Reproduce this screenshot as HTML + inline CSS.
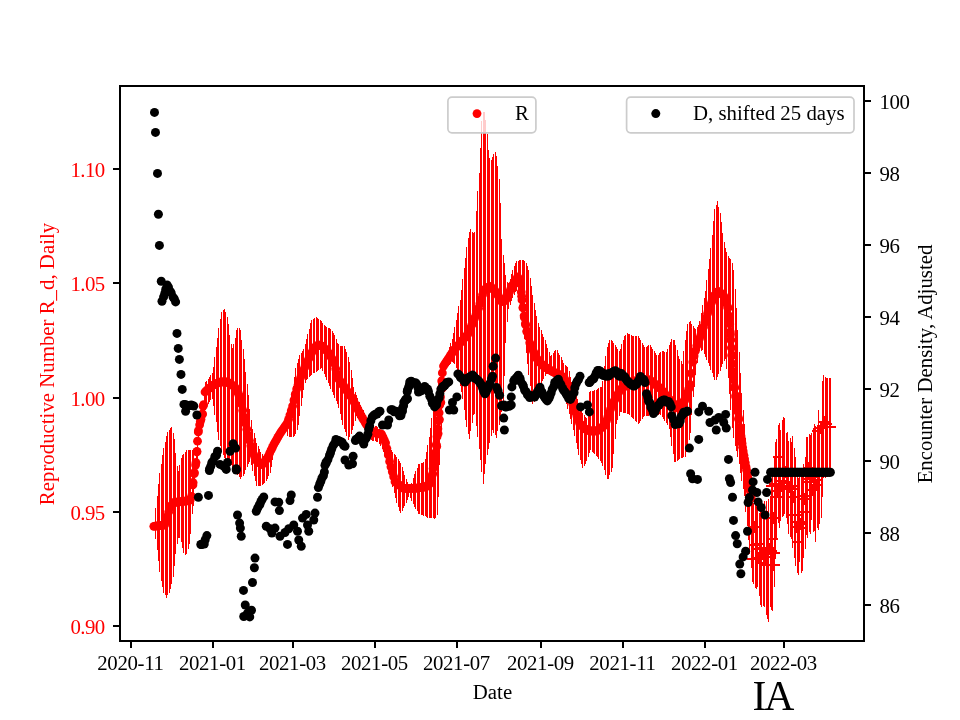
<!DOCTYPE html>
<html><head><meta charset="utf-8"><title>IA</title>
<style>html,body{margin:0;padding:0;background:#fff}svg{display:block;will-change:transform}text{font-family:"Liberation Serif",serif}</style></head><body>
<svg width="960" height="720" viewBox="0 0 960 720">
<rect width="960" height="720" fill="#fff"/>
<g stroke="#f00" stroke-width="1" fill="none" shape-rendering="crispEdges">
<path d="M154.5 522V530M155.5 508V539M157.5 496V550M158.5 484V561M159.5 473V572M161.5 464V581M162.5 455V587M163.5 448V593M165.5 442V595M166.5 436V598M167.5 432V595M169.5 430V593M170.5 428V589M171.5 427V584M173.5 433V577M174.5 439V566M175.5 453V554M177.5 466V544M178.5 471V538M179.5 465V538M181.5 458V542M182.5 455V548M183.5 454V553M185.5 452V555M186.5 450V554M188.5 450V549M189.5 450V544M190.5 450V534M192.5 450V514M193.5 453V506M194.5 459V489M196.5 454V474M197.5 441V459M198.5 425V440M200.5 418V432M201.5 411V426M202.5 404V420M204.5 393V414M205.5 382V410M206.5 381V407M208.5 379V404M209.5 377V402M210.5 375V400M212.5 373V399M213.5 367V406M214.5 357V415M216.5 347V422M217.5 338V432M218.5 328V440M220.5 319V446M221.5 312V452M223.5 310V455M224.5 309V458M225.5 312V459M227.5 317V460M228.5 324V462M229.5 335V464M231.5 344V465M232.5 348V467M233.5 344V469M235.5 338V471M236.5 330V473M237.5 328V475M239.5 328V477M240.5 330V479M241.5 340V477M243.5 349V476M244.5 359V474M245.5 372V470M247.5 384V467M248.5 395V464M249.5 409V462M251.5 420V465M252.5 429V471M254.5 433V476M255.5 438V481M256.5 443V486M258.5 446V486M259.5 449V486M260.5 452V486M262.5 454V485M263.5 456V484M264.5 455V483M266.5 454V481M267.5 453V479M268.5 452V476M270.5 450V473M271.5 448V467M272.5 446V460M274.5 444V452M275.5 441V448M276.5 438V445M278.5 435V442M279.5 432V440M280.5 429V438M282.5 426V436M283.5 423V434M285.5 419V432M286.5 416V430M287.5 411V436M289.5 406V437M290.5 400V437M291.5 393V437M293.5 386V437M294.5 377V436M295.5 368V434M297.5 363V430M298.5 359V425M299.5 355V416M301.5 353V406M302.5 351V398M303.5 349V390M305.5 344V383M306.5 339V380M307.5 334V379M309.5 329V377M310.5 323V376M311.5 320V375M313.5 319V373M314.5 318V373M316.5 317V372M317.5 318V371M318.5 319V370M320.5 320V369M321.5 321V368M322.5 323V371M324.5 325V374M325.5 326V377M326.5 327V380M328.5 328V383M329.5 328V386M330.5 329V389M332.5 331V392M333.5 333V395M334.5 335V398M336.5 339V401M337.5 343V404M338.5 344V408M340.5 346V414M341.5 346V420M342.5 346V425M344.5 346V429M345.5 349V432M346.5 352V436M348.5 357V440M349.5 362V437M351.5 370V434M352.5 378V430M353.5 387V426M355.5 392V421M356.5 395V416M357.5 398V418M359.5 402V419M360.5 405V421M361.5 407V423M363.5 410V425M364.5 413V428M365.5 415V431M367.5 418V433M368.5 420V436M369.5 423V439M371.5 424V440M372.5 425V441M373.5 425V441M375.5 426V441M376.5 426V442M377.5 427V442M379.5 429V444M380.5 431V446M382.5 434V449M383.5 436V452M384.5 439V454M386.5 441V457M387.5 444V462M388.5 446V468M390.5 448V473M391.5 450V480M392.5 452V487M394.5 454V493M395.5 455V498M396.5 457V503M398.5 459V507M399.5 461V511M400.5 463V513M402.5 467V511M403.5 471V508M404.5 475V506M406.5 479V503M407.5 482V500M408.5 484V497M410.5 486V498M411.5 483V501M413.5 478V504M414.5 474V507M415.5 471V509M417.5 468V511M418.5 464V514M419.5 464V514M421.5 463V515M422.5 463V515M423.5 462V516M425.5 459V516M426.5 452V517M427.5 445V518M429.5 437V518M430.5 428V518M431.5 418V518M433.5 410V518M434.5 404V519M435.5 397V518M437.5 390V515M438.5 383V497M439.5 377V465M441.5 371V429M442.5 366V394M443.5 362V371M445.5 358V368M446.5 355V367M448.5 351V366M449.5 347V365M450.5 343V364M452.5 339V362M453.5 333V363M454.5 327V364M456.5 320V368M457.5 313V374M458.5 306V379M460.5 300V386M461.5 290V392M462.5 279V399M464.5 268V410M465.5 258V420M466.5 247V427M468.5 238V434M469.5 232V439M470.5 229V431M472.5 232V423M473.5 233V415M474.5 232V414M476.5 211V426M477.5 191V437M479.5 173V449M480.5 148V460M481.5 121V472M483.5 112V484M484.5 112V474M485.5 120V464M487.5 134V455M488.5 150V449M489.5 158V443M491.5 160V436M492.5 157V430M493.5 154V433M495.5 152V435M496.5 156V438M497.5 166V431M499.5 179V425M500.5 203V418M501.5 239V412M503.5 255V405M504.5 263V376M505.5 275V343M507.5 282V322M508.5 283V309M510.5 279V305M511.5 274V301M512.5 270V298M514.5 266V295M515.5 263V292M516.5 261V291M518.5 261V295M519.5 260V300M520.5 260V309M522.5 260V318M523.5 260V328M524.5 261V339M526.5 263V353M527.5 266V364M528.5 270V375M530.5 278V386M531.5 286V397M532.5 295V404M534.5 303V402M535.5 310V401M536.5 316V398M538.5 323V393M539.5 327V388M541.5 330V384M542.5 334V381M543.5 337V379M545.5 340V376M546.5 344V374M547.5 348V374M549.5 352V373M550.5 356V372M551.5 355V373M553.5 353V374M554.5 351V375M555.5 350V376M557.5 350V377M558.5 353V380M559.5 355V383M561.5 357V385M562.5 360V388M563.5 363V394M565.5 365V399M566.5 366V404M567.5 367V409M569.5 371V414M570.5 377V419M571.5 382V424M573.5 387V430M574.5 391V436M576.5 395V443M577.5 399V449M578.5 403V455M580.5 407V460M581.5 410V464M582.5 413V468M584.5 415V466M585.5 417V464M586.5 418V461M588.5 401V457M589.5 392V453M590.5 391V450M592.5 391V452M593.5 391V453M594.5 390V454M596.5 390V456M597.5 389V457M598.5 388V459M600.5 387V461M601.5 387V463M602.5 381V466M604.5 366V470M605.5 356V475M607.5 347V479M608.5 343V479M609.5 340V475M611.5 340V472M612.5 341V468M613.5 343V454M615.5 345V439M616.5 347V424M617.5 349V420M619.5 351V416M620.5 349V412M621.5 344V412M623.5 340V413M624.5 336V413M625.5 335V413M627.5 333V414M628.5 334V414M629.5 334V415M631.5 335V417M632.5 336V418M633.5 336V419M635.5 336V421M636.5 336V422M638.5 336V424M639.5 338V423M640.5 340V421M642.5 343V419M643.5 345V417M644.5 347V416M646.5 347V416M647.5 346V416M648.5 345V416M650.5 345V416M651.5 347V416M652.5 349V416M654.5 351V416M655.5 353V416M656.5 355V416M658.5 355V415M659.5 353V414M660.5 352V415M662.5 351V417M663.5 351V419M664.5 352V421M666.5 352V423M667.5 349V425M669.5 345V429M670.5 342V437M671.5 339V446M673.5 340V454M674.5 340V462M675.5 345V462M677.5 350V461M678.5 356V460M679.5 359V459M681.5 361V458M682.5 364V458M683.5 351V457M685.5 340V457M686.5 331V452M687.5 324V446M689.5 322V440M690.5 321V433M691.5 324V415M693.5 326V397M694.5 328V387M695.5 329V375M697.5 327V363M698.5 325V352M699.5 321V351M701.5 313V351M702.5 305V350M704.5 298V354M705.5 291V357M706.5 280V360M708.5 269V363M709.5 259V366M710.5 248V370M712.5 235V373M713.5 221V377M714.5 209V380M716.5 205V380M717.5 201V377M718.5 207V374M720.5 213V371M721.5 222V367M722.5 233V364M724.5 242V361M725.5 248V359M726.5 252V369M728.5 256V378M729.5 258V394M730.5 259V410M732.5 263V428M733.5 270V438M735.5 289V446M736.5 308V451M737.5 330V457M739.5 352V464M740.5 373V473M741.5 393V481M743.5 410V489M744.5 424V496M745.5 438V512M747.5 454V526M748.5 470V540M749.5 483V554M751.5 493V568M752.5 500V582M753.5 503V584M755.5 501V588M756.5 501V589M757.5 501V587M759.5 513V596M760.5 504V605M761.5 502V607M763.5 511V606M764.5 501V607M766.5 501V615M767.5 511V619M768.5 499V622M770.5 498V607M771.5 486V610M772.5 471V611M774.5 457V587M775.5 442V559M776.5 439V538M778.5 425V523M779.5 423V528M780.5 430V521M782.5 420V517M783.5 417V516M784.5 418V514M786.5 433V518M787.5 432V524M788.5 441V534M790.5 438V537M791.5 442V539M792.5 436V548M794.5 448V558M795.5 457V566M797.5 468V573M798.5 478V575M799.5 477V562M801.5 473V573M802.5 476V571M803.5 464V558M805.5 457V549M806.5 437V535M807.5 437V538M809.5 434V532M810.5 435V534M811.5 433V520M813.5 428V532M814.5 424V531M815.5 426V542M817.5 432V528M818.5 410V530M819.5 425V524M821.5 428V518M822.5 381V497M823.5 375V478M825.5 377V478M826.5 378V477M827.5 378V477M829.5 378V477M830.5 378V476"/>
</g>
<g fill="#f00">
<circle cx="153.82" cy="526.3" r="4.4"/>
<circle cx="155.17" cy="526.1" r="4.4"/>
<circle cx="156.51" cy="526.0" r="4.4"/>
<circle cx="157.86" cy="525.8" r="4.4"/>
<circle cx="159.21" cy="525.7" r="4.4"/>
<circle cx="160.56" cy="525.5" r="4.4"/>
<circle cx="161.90" cy="525.4" r="4.4"/>
<circle cx="163.25" cy="525.2" r="4.4"/>
<circle cx="164.60" cy="525.0" r="4.4"/>
<circle cx="165.95" cy="521.5" r="4.4"/>
<circle cx="167.29" cy="516.5" r="4.4"/>
<circle cx="168.64" cy="512.0" r="4.4"/>
<circle cx="169.99" cy="507.5" r="4.4"/>
<circle cx="171.34" cy="505.7" r="4.4"/>
<circle cx="172.68" cy="503.9" r="4.4"/>
<circle cx="174.03" cy="502.5" r="4.4"/>
<circle cx="175.38" cy="502.3" r="4.4"/>
<circle cx="176.72" cy="502.2" r="4.4"/>
<circle cx="178.07" cy="502.0" r="4.4"/>
<circle cx="179.42" cy="501.8" r="4.4"/>
<circle cx="180.77" cy="501.7" r="4.4"/>
<circle cx="182.11" cy="501.5" r="4.4"/>
<circle cx="183.46" cy="501.4" r="4.4"/>
<circle cx="184.81" cy="501.2" r="4.4"/>
<circle cx="186.16" cy="501.0" r="4.4"/>
<circle cx="187.50" cy="500.9" r="4.4"/>
<circle cx="188.85" cy="500.7" r="4.4"/>
<circle cx="190.20" cy="500.0" r="4.4"/>
<circle cx="191.55" cy="496.3" r="4.4"/>
<circle cx="192.89" cy="484.9" r="4.4"/>
<circle cx="194.24" cy="473.7" r="4.4"/>
<circle cx="195.59" cy="465.1" r="4.4"/>
<circle cx="196.93" cy="451.3" r="4.4"/>
<circle cx="198.28" cy="432.0" r="4.4"/>
<circle cx="199.63" cy="424.8" r="4.4"/>
<circle cx="200.98" cy="419.2" r="4.4"/>
<circle cx="202.32" cy="414.4" r="4.4"/>
<circle cx="203.67" cy="404.6" r="4.4"/>
<circle cx="205.02" cy="392.0" r="4.4"/>
<circle cx="206.37" cy="390.8" r="4.4"/>
<circle cx="207.71" cy="389.6" r="4.4"/>
<circle cx="209.06" cy="388.5" r="4.4"/>
<circle cx="210.41" cy="387.3" r="4.4"/>
<circle cx="211.76" cy="386.1" r="4.4"/>
<circle cx="213.10" cy="385.2" r="4.4"/>
<circle cx="214.45" cy="384.6" r="4.4"/>
<circle cx="215.80" cy="384.0" r="4.4"/>
<circle cx="217.14" cy="383.3" r="4.4"/>
<circle cx="218.49" cy="382.7" r="4.4"/>
<circle cx="219.84" cy="382.1" r="4.4"/>
<circle cx="221.19" cy="382.0" r="4.4"/>
<circle cx="222.53" cy="382.0" r="4.4"/>
<circle cx="223.88" cy="382.0" r="4.4"/>
<circle cx="225.23" cy="382.0" r="4.4"/>
<circle cx="226.58" cy="382.0" r="4.4"/>
<circle cx="227.92" cy="382.3" r="4.4"/>
<circle cx="229.27" cy="383.2" r="4.4"/>
<circle cx="230.62" cy="384.1" r="4.4"/>
<circle cx="231.97" cy="385.0" r="4.4"/>
<circle cx="233.31" cy="385.9" r="4.4"/>
<circle cx="234.66" cy="386.8" r="4.4"/>
<circle cx="236.01" cy="389.0" r="4.4"/>
<circle cx="237.36" cy="391.7" r="4.4"/>
<circle cx="238.70" cy="394.4" r="4.4"/>
<circle cx="240.05" cy="397.2" r="4.4"/>
<circle cx="241.40" cy="403.8" r="4.4"/>
<circle cx="242.74" cy="410.4" r="4.4"/>
<circle cx="244.09" cy="417.0" r="4.4"/>
<circle cx="245.44" cy="423.2" r="4.4"/>
<circle cx="246.79" cy="429.2" r="4.4"/>
<circle cx="248.13" cy="435.1" r="4.4"/>
<circle cx="249.48" cy="440.5" r="4.4"/>
<circle cx="250.83" cy="445.8" r="4.4"/>
<circle cx="252.18" cy="450.7" r="4.4"/>
<circle cx="253.52" cy="454.0" r="4.4"/>
<circle cx="254.87" cy="457.2" r="4.4"/>
<circle cx="256.22" cy="460.2" r="4.4"/>
<circle cx="257.57" cy="461.3" r="4.4"/>
<circle cx="258.91" cy="462.4" r="4.4"/>
<circle cx="260.26" cy="463.5" r="4.4"/>
<circle cx="261.61" cy="464.7" r="4.4"/>
<circle cx="262.95" cy="463.8" r="4.4"/>
<circle cx="264.30" cy="462.0" r="4.4"/>
<circle cx="265.65" cy="460.3" r="4.4"/>
<circle cx="267.00" cy="458.5" r="4.4"/>
<circle cx="268.34" cy="456.0" r="4.4"/>
<circle cx="269.69" cy="453.1" r="4.4"/>
<circle cx="271.04" cy="450.2" r="4.4"/>
<circle cx="272.39" cy="447.4" r="4.4"/>
<circle cx="273.73" cy="444.6" r="4.4"/>
<circle cx="275.08" cy="442.2" r="4.4"/>
<circle cx="276.43" cy="439.8" r="4.4"/>
<circle cx="277.78" cy="437.4" r="4.4"/>
<circle cx="279.12" cy="435.1" r="4.4"/>
<circle cx="280.47" cy="432.8" r="4.4"/>
<circle cx="281.82" cy="430.9" r="4.4"/>
<circle cx="283.16" cy="429.0" r="4.4"/>
<circle cx="284.51" cy="427.1" r="4.4"/>
<circle cx="285.86" cy="425.2" r="4.4"/>
<circle cx="287.21" cy="423.3" r="4.4"/>
<circle cx="288.55" cy="419.3" r="4.4"/>
<circle cx="289.90" cy="415.0" r="4.4"/>
<circle cx="291.25" cy="410.7" r="4.4"/>
<circle cx="292.60" cy="406.1" r="4.4"/>
<circle cx="293.94" cy="400.1" r="4.4"/>
<circle cx="295.29" cy="394.2" r="4.4"/>
<circle cx="296.64" cy="389.1" r="4.4"/>
<circle cx="297.99" cy="385.0" r="4.4"/>
<circle cx="299.33" cy="381.0" r="4.4"/>
<circle cx="300.68" cy="377.3" r="4.4"/>
<circle cx="302.03" cy="373.9" r="4.4"/>
<circle cx="303.37" cy="370.6" r="4.4"/>
<circle cx="304.72" cy="367.4" r="4.4"/>
<circle cx="306.07" cy="364.5" r="4.4"/>
<circle cx="307.42" cy="361.6" r="4.4"/>
<circle cx="308.76" cy="358.7" r="4.4"/>
<circle cx="310.11" cy="355.8" r="4.4"/>
<circle cx="311.46" cy="353.1" r="4.4"/>
<circle cx="312.81" cy="350.4" r="4.4"/>
<circle cx="314.15" cy="347.9" r="4.4"/>
<circle cx="315.50" cy="346.9" r="4.4"/>
<circle cx="316.85" cy="345.9" r="4.4"/>
<circle cx="318.20" cy="345.0" r="4.4"/>
<circle cx="319.54" cy="345.4" r="4.4"/>
<circle cx="320.89" cy="345.7" r="4.4"/>
<circle cx="322.24" cy="346.2" r="4.4"/>
<circle cx="323.58" cy="347.6" r="4.4"/>
<circle cx="324.93" cy="348.9" r="4.4"/>
<circle cx="326.28" cy="350.3" r="4.4"/>
<circle cx="327.63" cy="351.6" r="4.4"/>
<circle cx="328.97" cy="353.6" r="4.4"/>
<circle cx="330.32" cy="355.9" r="4.4"/>
<circle cx="331.67" cy="358.1" r="4.4"/>
<circle cx="333.02" cy="360.4" r="4.4"/>
<circle cx="334.36" cy="363.5" r="4.4"/>
<circle cx="335.71" cy="368.8" r="4.4"/>
<circle cx="337.06" cy="374.2" r="4.4"/>
<circle cx="338.41" cy="378.6" r="4.4"/>
<circle cx="339.75" cy="380.5" r="4.4"/>
<circle cx="341.10" cy="382.4" r="4.4"/>
<circle cx="342.45" cy="384.4" r="4.4"/>
<circle cx="343.79" cy="386.3" r="4.4"/>
<circle cx="345.14" cy="388.2" r="4.4"/>
<circle cx="346.49" cy="390.1" r="4.4"/>
<circle cx="347.84" cy="392.1" r="4.4"/>
<circle cx="349.18" cy="394.0" r="4.4"/>
<circle cx="350.53" cy="395.9" r="4.4"/>
<circle cx="351.88" cy="397.8" r="4.4"/>
<circle cx="353.23" cy="400.4" r="4.4"/>
<circle cx="354.57" cy="403.0" r="4.4"/>
<circle cx="355.92" cy="405.6" r="4.4"/>
<circle cx="357.27" cy="408.2" r="4.4"/>
<circle cx="358.62" cy="410.8" r="4.4"/>
<circle cx="359.96" cy="413.4" r="4.4"/>
<circle cx="361.31" cy="415.9" r="4.4"/>
<circle cx="362.66" cy="418.3" r="4.4"/>
<circle cx="364.01" cy="420.5" r="4.4"/>
<circle cx="365.35" cy="422.8" r="4.4"/>
<circle cx="366.70" cy="425.0" r="4.4"/>
<circle cx="368.05" cy="426.5" r="4.4"/>
<circle cx="369.39" cy="428.1" r="4.4"/>
<circle cx="370.74" cy="429.6" r="4.4"/>
<circle cx="372.09" cy="431.1" r="4.4"/>
<circle cx="373.44" cy="432.5" r="4.4"/>
<circle cx="374.78" cy="432.8" r="4.4"/>
<circle cx="376.13" cy="433.1" r="4.4"/>
<circle cx="377.48" cy="433.3" r="4.4"/>
<circle cx="378.83" cy="433.6" r="4.4"/>
<circle cx="380.17" cy="433.9" r="4.4"/>
<circle cx="381.52" cy="434.2" r="4.4"/>
<circle cx="382.87" cy="436.8" r="4.4"/>
<circle cx="384.22" cy="439.8" r="4.4"/>
<circle cx="385.56" cy="442.8" r="4.4"/>
<circle cx="386.91" cy="448.6" r="4.4"/>
<circle cx="388.26" cy="455.0" r="4.4"/>
<circle cx="389.60" cy="461.4" r="4.4"/>
<circle cx="390.95" cy="466.8" r="4.4"/>
<circle cx="392.30" cy="471.8" r="4.4"/>
<circle cx="393.65" cy="476.7" r="4.4"/>
<circle cx="394.99" cy="481.7" r="4.4"/>
<circle cx="396.34" cy="482.8" r="4.4"/>
<circle cx="397.69" cy="483.8" r="4.4"/>
<circle cx="399.04" cy="484.9" r="4.4"/>
<circle cx="400.38" cy="486.0" r="4.4"/>
<circle cx="401.73" cy="487.1" r="4.4"/>
<circle cx="403.08" cy="488.1" r="4.4"/>
<circle cx="404.43" cy="488.3" r="4.4"/>
<circle cx="405.77" cy="488.3" r="4.4"/>
<circle cx="407.12" cy="488.3" r="4.4"/>
<circle cx="408.47" cy="488.3" r="4.4"/>
<circle cx="409.81" cy="488.3" r="4.4"/>
<circle cx="411.16" cy="488.3" r="4.4"/>
<circle cx="412.51" cy="488.3" r="4.4"/>
<circle cx="413.86" cy="488.3" r="4.4"/>
<circle cx="415.20" cy="488.3" r="4.4"/>
<circle cx="416.55" cy="488.1" r="4.4"/>
<circle cx="417.90" cy="487.9" r="4.4"/>
<circle cx="419.25" cy="487.7" r="4.4"/>
<circle cx="420.59" cy="487.5" r="4.4"/>
<circle cx="421.94" cy="487.4" r="4.4"/>
<circle cx="423.29" cy="487.2" r="4.4"/>
<circle cx="424.64" cy="487.0" r="4.4"/>
<circle cx="425.98" cy="486.8" r="4.4"/>
<circle cx="427.33" cy="485.7" r="4.4"/>
<circle cx="428.68" cy="483.5" r="4.4"/>
<circle cx="430.02" cy="481.2" r="4.4"/>
<circle cx="431.37" cy="479.0" r="4.4"/>
<circle cx="432.72" cy="473.7" r="4.4"/>
<circle cx="434.07" cy="465.6" r="4.4"/>
<circle cx="435.41" cy="457.5" r="4.4"/>
<circle cx="436.76" cy="446.4" r="4.4"/>
<circle cx="438.11" cy="433.6" r="4.4"/>
<circle cx="439.46" cy="419.6" r="4.4"/>
<circle cx="440.80" cy="402.4" r="4.4"/>
<circle cx="442.15" cy="388.5" r="4.4"/>
<circle cx="443.50" cy="366.1" r="4.4"/>
<circle cx="444.85" cy="363.9" r="4.4"/>
<circle cx="446.19" cy="361.9" r="4.4"/>
<circle cx="447.54" cy="359.8" r="4.4"/>
<circle cx="448.89" cy="357.8" r="4.4"/>
<circle cx="450.23" cy="355.7" r="4.4"/>
<circle cx="451.58" cy="353.7" r="4.4"/>
<circle cx="452.93" cy="351.6" r="4.4"/>
<circle cx="454.28" cy="349.7" r="4.4"/>
<circle cx="455.62" cy="348.1" r="4.4"/>
<circle cx="456.97" cy="346.6" r="4.4"/>
<circle cx="458.32" cy="345.1" r="4.4"/>
<circle cx="459.67" cy="343.5" r="4.4"/>
<circle cx="461.01" cy="342.0" r="4.4"/>
<circle cx="462.36" cy="340.4" r="4.4"/>
<circle cx="463.71" cy="338.9" r="4.4"/>
<circle cx="465.06" cy="337.4" r="4.4"/>
<circle cx="466.40" cy="335.8" r="4.4"/>
<circle cx="467.75" cy="334.3" r="4.4"/>
<circle cx="469.10" cy="331.4" r="4.4"/>
<circle cx="470.44" cy="328.1" r="4.4"/>
<circle cx="471.79" cy="324.9" r="4.4"/>
<circle cx="473.14" cy="321.7" r="4.4"/>
<circle cx="474.49" cy="318.4" r="4.4"/>
<circle cx="475.83" cy="315.2" r="4.4"/>
<circle cx="477.18" cy="312.0" r="4.4"/>
<circle cx="478.53" cy="308.2" r="4.4"/>
<circle cx="479.88" cy="303.7" r="4.4"/>
<circle cx="481.22" cy="299.3" r="4.4"/>
<circle cx="482.57" cy="294.8" r="4.4"/>
<circle cx="483.92" cy="290.3" r="4.4"/>
<circle cx="485.27" cy="289.2" r="4.4"/>
<circle cx="486.61" cy="288.3" r="4.4"/>
<circle cx="487.96" cy="287.4" r="4.4"/>
<circle cx="489.31" cy="286.5" r="4.4"/>
<circle cx="490.65" cy="286.7" r="4.4"/>
<circle cx="492.00" cy="288.0" r="4.4"/>
<circle cx="493.35" cy="289.3" r="4.4"/>
<circle cx="494.70" cy="290.7" r="4.4"/>
<circle cx="496.04" cy="292.1" r="4.4"/>
<circle cx="497.39" cy="294.3" r="4.4"/>
<circle cx="498.74" cy="296.6" r="4.4"/>
<circle cx="500.09" cy="298.8" r="4.4"/>
<circle cx="501.43" cy="301.1" r="4.4"/>
<circle cx="502.78" cy="301.6" r="4.4"/>
<circle cx="504.13" cy="300.9" r="4.4"/>
<circle cx="505.48" cy="300.3" r="4.4"/>
<circle cx="506.82" cy="298.1" r="4.4"/>
<circle cx="508.17" cy="294.9" r="4.4"/>
<circle cx="509.52" cy="291.8" r="4.4"/>
<circle cx="510.87" cy="288.6" r="4.4"/>
<circle cx="512.21" cy="285.7" r="4.4"/>
<circle cx="513.56" cy="283.7" r="4.4"/>
<circle cx="514.91" cy="281.6" r="4.4"/>
<circle cx="516.25" cy="279.5" r="4.4"/>
<circle cx="517.60" cy="276.8" r="4.4"/>
<circle cx="518.95" cy="279.0" r="4.4"/>
<circle cx="520.30" cy="283.3" r="4.4"/>
<circle cx="521.64" cy="296.2" r="4.4"/>
<circle cx="522.99" cy="307.4" r="4.4"/>
<circle cx="524.34" cy="317.4" r="4.4"/>
<circle cx="525.69" cy="325.0" r="4.4"/>
<circle cx="527.03" cy="330.9" r="4.4"/>
<circle cx="528.38" cy="336.9" r="4.4"/>
<circle cx="529.73" cy="342.8" r="4.4"/>
<circle cx="531.08" cy="346.3" r="4.4"/>
<circle cx="532.42" cy="349.2" r="4.4"/>
<circle cx="533.77" cy="352.1" r="4.4"/>
<circle cx="535.12" cy="355.0" r="4.4"/>
<circle cx="536.46" cy="357.9" r="4.4"/>
<circle cx="537.81" cy="359.9" r="4.4"/>
<circle cx="539.16" cy="361.4" r="4.4"/>
<circle cx="540.51" cy="362.8" r="4.4"/>
<circle cx="541.85" cy="364.3" r="4.4"/>
<circle cx="543.20" cy="365.8" r="4.4"/>
<circle cx="544.55" cy="366.7" r="4.4"/>
<circle cx="545.90" cy="367.5" r="4.4"/>
<circle cx="547.24" cy="368.3" r="4.4"/>
<circle cx="548.59" cy="369.1" r="4.4"/>
<circle cx="549.94" cy="370.0" r="4.4"/>
<circle cx="551.29" cy="370.8" r="4.4"/>
<circle cx="552.63" cy="371.6" r="4.4"/>
<circle cx="553.98" cy="372.3" r="4.4"/>
<circle cx="555.33" cy="372.9" r="4.4"/>
<circle cx="556.67" cy="373.5" r="4.4"/>
<circle cx="558.02" cy="374.1" r="4.4"/>
<circle cx="559.37" cy="374.7" r="4.4"/>
<circle cx="560.72" cy="375.5" r="4.4"/>
<circle cx="562.06" cy="376.4" r="4.4"/>
<circle cx="563.41" cy="377.3" r="4.4"/>
<circle cx="564.76" cy="379.1" r="4.4"/>
<circle cx="566.11" cy="383.5" r="4.4"/>
<circle cx="567.45" cy="387.8" r="4.4"/>
<circle cx="568.80" cy="392.1" r="4.4"/>
<circle cx="570.15" cy="396.2" r="4.4"/>
<circle cx="571.50" cy="400.3" r="4.4"/>
<circle cx="572.84" cy="404.3" r="4.4"/>
<circle cx="574.19" cy="408.4" r="4.4"/>
<circle cx="575.54" cy="412.2" r="4.4"/>
<circle cx="576.88" cy="416.0" r="4.4"/>
<circle cx="578.23" cy="419.7" r="4.4"/>
<circle cx="579.58" cy="423.2" r="4.4"/>
<circle cx="580.93" cy="424.6" r="4.4"/>
<circle cx="582.27" cy="426.1" r="4.4"/>
<circle cx="583.62" cy="427.5" r="4.4"/>
<circle cx="584.97" cy="429.0" r="4.4"/>
<circle cx="586.32" cy="429.5" r="4.4"/>
<circle cx="587.66" cy="430.1" r="4.4"/>
<circle cx="589.01" cy="430.6" r="4.4"/>
<circle cx="590.36" cy="431.0" r="4.4"/>
<circle cx="591.71" cy="431.0" r="4.4"/>
<circle cx="593.05" cy="431.0" r="4.4"/>
<circle cx="594.40" cy="431.0" r="4.4"/>
<circle cx="595.75" cy="431.0" r="4.4"/>
<circle cx="597.09" cy="430.9" r="4.4"/>
<circle cx="598.44" cy="429.9" r="4.4"/>
<circle cx="599.79" cy="428.9" r="4.4"/>
<circle cx="601.14" cy="427.9" r="4.4"/>
<circle cx="602.48" cy="426.9" r="4.4"/>
<circle cx="603.83" cy="425.9" r="4.4"/>
<circle cx="605.18" cy="424.5" r="4.4"/>
<circle cx="606.53" cy="420.6" r="4.4"/>
<circle cx="607.87" cy="416.8" r="4.4"/>
<circle cx="609.22" cy="412.9" r="4.4"/>
<circle cx="610.57" cy="409.1" r="4.4"/>
<circle cx="611.92" cy="405.2" r="4.4"/>
<circle cx="613.26" cy="402.6" r="4.4"/>
<circle cx="614.61" cy="400.1" r="4.4"/>
<circle cx="615.96" cy="397.6" r="4.4"/>
<circle cx="617.30" cy="395.1" r="4.4"/>
<circle cx="618.65" cy="392.5" r="4.4"/>
<circle cx="620.00" cy="390.0" r="4.4"/>
<circle cx="621.35" cy="388.9" r="4.4"/>
<circle cx="622.69" cy="387.8" r="4.4"/>
<circle cx="624.04" cy="386.8" r="4.4"/>
<circle cx="625.39" cy="385.7" r="4.4"/>
<circle cx="626.74" cy="384.6" r="4.4"/>
<circle cx="628.08" cy="383.5" r="4.4"/>
<circle cx="629.43" cy="382.5" r="4.4"/>
<circle cx="630.78" cy="381.8" r="4.4"/>
<circle cx="632.13" cy="381.6" r="4.4"/>
<circle cx="633.47" cy="381.3" r="4.4"/>
<circle cx="634.82" cy="381.0" r="4.4"/>
<circle cx="636.17" cy="380.8" r="4.4"/>
<circle cx="637.52" cy="380.5" r="4.4"/>
<circle cx="638.86" cy="380.2" r="4.4"/>
<circle cx="640.21" cy="380.0" r="4.4"/>
<circle cx="641.56" cy="380.0" r="4.4"/>
<circle cx="642.90" cy="380.0" r="4.4"/>
<circle cx="644.25" cy="380.0" r="4.4"/>
<circle cx="645.60" cy="380.0" r="4.4"/>
<circle cx="646.95" cy="380.0" r="4.4"/>
<circle cx="648.29" cy="380.0" r="4.4"/>
<circle cx="649.64" cy="380.0" r="4.4"/>
<circle cx="650.99" cy="380.8" r="4.4"/>
<circle cx="652.34" cy="381.9" r="4.4"/>
<circle cx="653.68" cy="382.9" r="4.4"/>
<circle cx="655.03" cy="384.0" r="4.4"/>
<circle cx="656.38" cy="385.1" r="4.4"/>
<circle cx="657.73" cy="386.2" r="4.4"/>
<circle cx="659.07" cy="387.3" r="4.4"/>
<circle cx="660.42" cy="388.5" r="4.4"/>
<circle cx="661.77" cy="390.1" r="4.4"/>
<circle cx="663.11" cy="391.7" r="4.4"/>
<circle cx="664.46" cy="393.4" r="4.4"/>
<circle cx="665.81" cy="395.0" r="4.4"/>
<circle cx="667.16" cy="396.6" r="4.4"/>
<circle cx="668.50" cy="398.2" r="4.4"/>
<circle cx="669.85" cy="399.8" r="4.4"/>
<circle cx="671.20" cy="401.2" r="4.4"/>
<circle cx="672.55" cy="402.5" r="4.4"/>
<circle cx="673.89" cy="403.9" r="4.4"/>
<circle cx="675.24" cy="405.2" r="4.4"/>
<circle cx="676.59" cy="406.6" r="4.4"/>
<circle cx="677.94" cy="407.9" r="4.4"/>
<circle cx="679.28" cy="406.5" r="4.4"/>
<circle cx="680.63" cy="405.0" r="4.4"/>
<circle cx="681.98" cy="403.5" r="4.4"/>
<circle cx="683.32" cy="401.9" r="4.4"/>
<circle cx="684.67" cy="400.4" r="4.4"/>
<circle cx="686.02" cy="396.9" r="4.4"/>
<circle cx="687.37" cy="392.9" r="4.4"/>
<circle cx="688.71" cy="388.9" r="4.4"/>
<circle cx="690.06" cy="384.5" r="4.4"/>
<circle cx="691.41" cy="373.3" r="4.4"/>
<circle cx="692.76" cy="362.0" r="4.4"/>
<circle cx="694.10" cy="355.9" r="4.4"/>
<circle cx="695.45" cy="350.8" r="4.4"/>
<circle cx="696.80" cy="345.8" r="4.4"/>
<circle cx="698.15" cy="342.0" r="4.4"/>
<circle cx="699.49" cy="338.5" r="4.4"/>
<circle cx="700.84" cy="335.0" r="4.4"/>
<circle cx="702.19" cy="331.4" r="4.4"/>
<circle cx="703.53" cy="326.9" r="4.4"/>
<circle cx="704.88" cy="322.4" r="4.4"/>
<circle cx="706.23" cy="317.9" r="4.4"/>
<circle cx="707.58" cy="313.4" r="4.4"/>
<circle cx="708.92" cy="309.5" r="4.4"/>
<circle cx="710.27" cy="305.9" r="4.4"/>
<circle cx="711.62" cy="302.3" r="4.4"/>
<circle cx="712.97" cy="298.8" r="4.4"/>
<circle cx="714.31" cy="295.6" r="4.4"/>
<circle cx="715.66" cy="293.9" r="4.4"/>
<circle cx="717.01" cy="292.2" r="4.4"/>
<circle cx="718.36" cy="291.3" r="4.4"/>
<circle cx="719.70" cy="292.4" r="4.4"/>
<circle cx="721.05" cy="293.5" r="4.4"/>
<circle cx="722.40" cy="294.7" r="4.4"/>
<circle cx="723.74" cy="295.8" r="4.4"/>
<circle cx="725.09" cy="299.3" r="4.4"/>
<circle cx="726.44" cy="303.3" r="4.4"/>
<circle cx="727.79" cy="307.4" r="4.4"/>
<circle cx="729.13" cy="317.1" r="4.4"/>
<circle cx="730.48" cy="334.7" r="4.4"/>
<circle cx="731.83" cy="354.9" r="4.4"/>
<circle cx="733.18" cy="375.1" r="4.4"/>
<circle cx="734.52" cy="387.4" r="4.4"/>
<circle cx="735.87" cy="397.2" r="4.4"/>
<circle cx="737.22" cy="407.7" r="4.4"/>
<circle cx="738.57" cy="418.4" r="4.4"/>
<circle cx="739.91" cy="428.6" r="4.4"/>
<circle cx="741.26" cy="437.9" r="4.4"/>
<circle cx="742.61" cy="447.3" r="4.4"/>
<circle cx="743.95" cy="455.3" r="4.4"/>
<circle cx="745.30" cy="462.8" r="4.4"/>
<circle cx="746.65" cy="470.3" r="4.4"/>
<circle cx="748.00" cy="478.0" r="4.4"/>
<circle cx="749.34" cy="486.1" r="4.4"/>
<circle cx="750.69" cy="494.5" r="4.4"/>
<circle cx="193.10" cy="482.5" r="4.4"/>
<circle cx="194.40" cy="472.5" r="4.4"/>
<circle cx="196.00" cy="462.5" r="4.4"/>
<circle cx="196.90" cy="451.9" r="4.4"/>
<circle cx="197.50" cy="441.2" r="4.4"/>
<circle cx="198.40" cy="430.6" r="4.4"/>
<circle cx="200.30" cy="421.6" r="4.4"/>
<circle cx="202.50" cy="413.8" r="4.4"/>
<circle cx="203.10" cy="406.2" r="4.4"/>
<circle cx="429.50" cy="484.0" r="4.4"/>
<circle cx="431.78" cy="476.3" r="4.4"/>
<circle cx="433.09" cy="468.5" r="4.4"/>
<circle cx="434.36" cy="460.6" r="4.4"/>
<circle cx="435.53" cy="452.6" r="4.4"/>
<circle cx="436.27" cy="444.7" r="4.4"/>
<circle cx="437.04" cy="436.7" r="4.4"/>
<circle cx="437.90" cy="428.8" r="4.4"/>
<circle cx="438.57" cy="420.8" r="4.4"/>
<circle cx="439.14" cy="412.8" r="4.4"/>
<circle cx="439.80" cy="404.8" r="4.4"/>
<circle cx="440.46" cy="396.9" r="4.4"/>
<circle cx="441.13" cy="388.9" r="4.4"/>
<circle cx="441.72" cy="380.9" r="4.4"/>
<circle cx="442.36" cy="372.9" r="4.4"/>
<circle cx="520.50" cy="284.0" r="4.4"/>
<circle cx="521.25" cy="292.0" r="4.4"/>
<circle cx="521.99" cy="299.9" r="4.4"/>
<circle cx="523.05" cy="307.9" r="4.4"/>
<circle cx="524.11" cy="315.8" r="4.4"/>
<circle cx="525.31" cy="323.7" r="4.4"/>
<circle cx="526.74" cy="331.6" r="4.4"/>
<circle cx="728.00" cy="308.0" r="4.4"/>
<circle cx="728.99" cy="315.9" r="4.4"/>
<circle cx="729.76" cy="323.9" r="4.4"/>
<circle cx="730.29" cy="331.9" r="4.4"/>
<circle cx="730.82" cy="339.9" r="4.4"/>
<circle cx="731.36" cy="347.8" r="4.4"/>
<circle cx="731.89" cy="355.8" r="4.4"/>
<circle cx="732.42" cy="363.8" r="4.4"/>
<circle cx="732.95" cy="371.8" r="4.4"/>
<circle cx="733.48" cy="379.8" r="4.4"/>
<circle cx="734.56" cy="387.7" r="4.4"/>
<circle cx="735.65" cy="395.6" r="4.4"/>
<circle cx="736.70" cy="403.6" r="4.4"/>
<circle cx="737.70" cy="411.5" r="4.4"/>
<circle cx="738.70" cy="419.4" r="4.4"/>
<circle cx="739.74" cy="427.4" r="4.4"/>
<circle cx="740.88" cy="435.3" r="4.4"/>
<circle cx="742.02" cy="443.2" r="4.4"/>
<circle cx="743.20" cy="451.1" r="4.4"/>
<circle cx="744.62" cy="459.0" r="4.4"/>
<circle cx="746.03" cy="466.9" r="4.4"/>
<circle cx="747.45" cy="474.7" r="4.4"/>
<circle cx="748.77" cy="482.6" r="4.4"/>
<circle cx="750.08" cy="490.5" r="4.4"/>
<circle cx="751.30" cy="498.4" r="4.4"/>
</g>
<g stroke="#f00" stroke-width="2" fill="none">
<path d="M812 431H824M818 425V437M815 428H827M821 422V434M818 422H830M824 416V428M820 424H832M826 418V430M824 427H836M830 421V433M766 486H778M772 480V492M768 553H780M774 547V559M768 565H780M774 559V571M747 559H759M753 553V565M749 527H761M755 521V533M750 545H762M756 539V551M751 544H763M757 538V550M753 558H765M759 552V564M754 549H766M760 543V555M755 563H767M761 557V569M757 554H769M763 548V560M758 548H770M764 542V554M760 557H772M766 551V563M761 565H773M767 559V571M762 552H774M768 546V558M764 549H776M770 543V555M765 551H777M771 545V557M766 539H778M772 533V545M768 518H780M774 512V524M769 484H781M775 478V490M770 497H782M776 491V503M772 491H784M778 485V497M773 457H785M779 451V463M774 481H786M780 475V487M776 486H788M782 480V492M777 470H789M783 464V476M778 488H790M784 482V494M780 472H792M786 466V478M781 483H793M787 477V489M782 469H794M788 463V475M784 487H796M790 481V493M785 489H797M791 483V495M786 486H798M792 480V492M788 497H800M794 491V503M789 515H801M795 509V521M791 527H803M797 521V533M792 542H804M798 536V548M793 522H805M799 516V528M795 524H807M801 518V530M796 528H808M802 522V534M797 512H809M803 506V518M799 499H811M805 493V505M800 496H812M806 490V502M801 479H813M807 473V485M803 468H815M809 462V474M804 482H816M810 476V488M805 477H817M811 471V483M807 490H819M813 484V496M808 477H820M814 471V483M809 480H821M815 474V486M811 485H823M817 479V491"/>
</g>
<g fill="#000">
<circle cx="154.50" cy="112.4" r="4.5"/>
<circle cx="155.50" cy="132.4" r="4.5"/>
<circle cx="157.50" cy="173.4" r="4.5"/>
<circle cx="158.40" cy="214.2" r="4.5"/>
<circle cx="159.40" cy="245.4" r="4.5"/>
<circle cx="161.25" cy="281.2" r="4.5"/>
<circle cx="161.97" cy="301.2" r="4.5"/>
<circle cx="163.60" cy="296.9" r="4.5"/>
<circle cx="164.84" cy="293.2" r="4.5"/>
<circle cx="165.76" cy="289.2" r="4.5"/>
<circle cx="167.08" cy="284.9" r="4.5"/>
<circle cx="168.47" cy="287.1" r="4.5"/>
<circle cx="170.14" cy="291.2" r="4.5"/>
<circle cx="171.22" cy="292.9" r="4.5"/>
<circle cx="173.03" cy="297.1" r="4.5"/>
<circle cx="174.34" cy="298.9" r="4.5"/>
<circle cx="175.62" cy="301.9" r="4.5"/>
<circle cx="177.00" cy="333.4" r="4.5"/>
<circle cx="178.25" cy="348.4" r="4.5"/>
<circle cx="179.38" cy="359.4" r="4.5"/>
<circle cx="181.00" cy="374.4" r="4.5"/>
<circle cx="182.25" cy="389.4" r="4.5"/>
<circle cx="183.93" cy="404.4" r="4.5"/>
<circle cx="185.10" cy="405.0" r="4.5"/>
<circle cx="185.74" cy="404.7" r="4.5"/>
<circle cx="187.17" cy="406.1" r="4.5"/>
<circle cx="188.34" cy="405.8" r="4.5"/>
<circle cx="190.03" cy="405.5" r="4.5"/>
<circle cx="191.23" cy="405.0" r="4.5"/>
<circle cx="192.07" cy="405.4" r="4.5"/>
<circle cx="193.75" cy="406.0" r="4.5"/>
<circle cx="185.62" cy="411.2" r="4.5"/>
<circle cx="196.88" cy="415.0" r="4.5"/>
<circle cx="198.38" cy="497.2" r="4.5"/>
<circle cx="208.50" cy="495.4" r="4.5"/>
<circle cx="200.79" cy="544.5" r="4.5"/>
<circle cx="201.58" cy="544.5" r="4.5"/>
<circle cx="202.83" cy="543.7" r="4.5"/>
<circle cx="204.26" cy="544.1" r="4.5"/>
<circle cx="205.21" cy="539.8" r="4.5"/>
<circle cx="206.88" cy="535.6" r="4.5"/>
<circle cx="209.38" cy="470.6" r="4.5"/>
<circle cx="226.25" cy="469.4" r="4.5"/>
<circle cx="236.25" cy="470.0" r="4.5"/>
<circle cx="237.50" cy="515.0" r="4.5"/>
<circle cx="239.62" cy="523.1" r="4.5"/>
<circle cx="240.38" cy="528.1" r="4.5"/>
<circle cx="241.25" cy="536.2" r="4.5"/>
<circle cx="255.00" cy="558.1" r="4.5"/>
<circle cx="256.27" cy="511.3" r="4.5"/>
<circle cx="257.71" cy="508.0" r="4.5"/>
<circle cx="259.18" cy="505.4" r="4.5"/>
<circle cx="259.93" cy="504.2" r="4.5"/>
<circle cx="260.94" cy="501.4" r="4.5"/>
<circle cx="262.09" cy="499.5" r="4.5"/>
<circle cx="263.75" cy="496.9" r="4.5"/>
<circle cx="275.00" cy="501.9" r="4.5"/>
<circle cx="278.75" cy="502.2" r="4.5"/>
<circle cx="279.38" cy="510.6" r="4.5"/>
<circle cx="291.25" cy="495.0" r="4.5"/>
<circle cx="290.00" cy="500.6" r="4.5"/>
<circle cx="266.25" cy="526.2" r="4.5"/>
<circle cx="270.00" cy="528.8" r="4.5"/>
<circle cx="271.88" cy="533.1" r="4.5"/>
<circle cx="275.00" cy="528.1" r="4.5"/>
<circle cx="280.00" cy="536.2" r="4.5"/>
<circle cx="285.00" cy="532.5" r="4.5"/>
<circle cx="287.50" cy="544.4" r="4.5"/>
<circle cx="288.75" cy="528.8" r="4.5"/>
<circle cx="293.75" cy="525.0" r="4.5"/>
<circle cx="297.50" cy="531.2" r="4.5"/>
<circle cx="298.75" cy="540.0" r="4.5"/>
<circle cx="301.25" cy="546.2" r="4.5"/>
<circle cx="302.50" cy="518.1" r="4.5"/>
<circle cx="306.25" cy="514.4" r="4.5"/>
<circle cx="307.50" cy="525.0" r="4.5"/>
<circle cx="308.75" cy="531.2" r="4.5"/>
<circle cx="254.38" cy="567.8" r="4.5"/>
<circle cx="252.50" cy="582.5" r="4.5"/>
<circle cx="243.50" cy="590.4" r="4.5"/>
<circle cx="245.25" cy="605.0" r="4.5"/>
<circle cx="251.50" cy="610.2" r="4.5"/>
<circle cx="243.75" cy="616.5" r="4.5"/>
<circle cx="249.75" cy="616.9" r="4.5"/>
<circle cx="247.50" cy="613.1" r="4.5"/>
<circle cx="317.50" cy="497.2" r="4.5"/>
<circle cx="318.36" cy="487.6" r="4.5"/>
<circle cx="319.71" cy="484.0" r="4.5"/>
<circle cx="320.80" cy="481.4" r="4.5"/>
<circle cx="321.95" cy="478.0" r="4.5"/>
<circle cx="323.43" cy="475.8" r="4.5"/>
<circle cx="324.38" cy="471.9" r="4.5"/>
<circle cx="326.25" cy="463.1" r="4.5"/>
<circle cx="315.00" cy="513.1" r="4.5"/>
<circle cx="313.75" cy="520.0" r="4.5"/>
<circle cx="324.98" cy="465.3" r="4.5"/>
<circle cx="326.01" cy="462.2" r="4.5"/>
<circle cx="327.94" cy="459.6" r="4.5"/>
<circle cx="329.51" cy="455.2" r="4.5"/>
<circle cx="330.52" cy="452.8" r="4.5"/>
<circle cx="331.60" cy="449.3" r="4.5"/>
<circle cx="333.14" cy="445.6" r="4.5"/>
<circle cx="334.45" cy="443.6" r="4.5"/>
<circle cx="335.92" cy="439.5" r="4.5"/>
<circle cx="337.40" cy="441.0" r="4.5"/>
<circle cx="338.37" cy="440.5" r="4.5"/>
<circle cx="340.04" cy="441.6" r="4.5"/>
<circle cx="341.54" cy="441.9" r="4.5"/>
<circle cx="342.30" cy="442.8" r="4.5"/>
<circle cx="343.62" cy="445.3" r="4.5"/>
<circle cx="345.00" cy="446.2" r="4.5"/>
<circle cx="345.00" cy="460.0" r="4.5"/>
<circle cx="353.12" cy="456.2" r="4.5"/>
<circle cx="348.75" cy="465.0" r="4.5"/>
<circle cx="352.50" cy="463.8" r="4.5"/>
<circle cx="355.41" cy="440.6" r="4.5"/>
<circle cx="355.96" cy="439.5" r="4.5"/>
<circle cx="357.26" cy="438.7" r="4.5"/>
<circle cx="358.83" cy="437.1" r="4.5"/>
<circle cx="359.55" cy="436.1" r="4.5"/>
<circle cx="361.13" cy="438.9" r="4.5"/>
<circle cx="362.91" cy="441.6" r="4.5"/>
<circle cx="363.76" cy="444.0" r="4.5"/>
<circle cx="365.16" cy="439.6" r="4.5"/>
<circle cx="366.61" cy="437.6" r="4.5"/>
<circle cx="367.84" cy="434.3" r="4.5"/>
<circle cx="368.65" cy="429.5" r="4.5"/>
<circle cx="369.64" cy="425.9" r="4.5"/>
<circle cx="370.86" cy="420.8" r="4.5"/>
<circle cx="372.24" cy="416.9" r="4.5"/>
<circle cx="373.61" cy="415.7" r="4.5"/>
<circle cx="374.55" cy="414.8" r="4.5"/>
<circle cx="375.89" cy="414.1" r="4.5"/>
<circle cx="377.07" cy="414.0" r="4.5"/>
<circle cx="378.85" cy="411.7" r="4.5"/>
<circle cx="380.00" cy="411.2" r="4.5"/>
<circle cx="382.50" cy="425.0" r="4.5"/>
<circle cx="387.50" cy="425.0" r="4.5"/>
<circle cx="388.75" cy="420.0" r="4.5"/>
<circle cx="391.03" cy="409.7" r="4.5"/>
<circle cx="392.38" cy="409.8" r="4.5"/>
<circle cx="394.06" cy="411.8" r="4.5"/>
<circle cx="394.97" cy="411.4" r="4.5"/>
<circle cx="395.88" cy="411.2" r="4.5"/>
<circle cx="397.36" cy="412.5" r="4.5"/>
<circle cx="399.05" cy="413.3" r="4.5"/>
<circle cx="399.57" cy="415.8" r="4.5"/>
<circle cx="401.28" cy="411.2" r="4.5"/>
<circle cx="402.54" cy="407.9" r="4.5"/>
<circle cx="403.78" cy="402.1" r="4.5"/>
<circle cx="405.33" cy="400.8" r="4.5"/>
<circle cx="406.04" cy="399.3" r="4.5"/>
<circle cx="407.50" cy="398.8" r="4.5"/>
<circle cx="407.50" cy="390.0" r="4.5"/>
<circle cx="409.38" cy="385.0" r="4.5"/>
<circle cx="400.95" cy="415.5" r="4.5"/>
<circle cx="402.53" cy="411.1" r="4.5"/>
<circle cx="403.60" cy="405.8" r="4.5"/>
<circle cx="405.59" cy="399.6" r="4.5"/>
<circle cx="407.19" cy="391.8" r="4.5"/>
<circle cx="408.72" cy="387.0" r="4.5"/>
<circle cx="409.75" cy="381.9" r="4.5"/>
<circle cx="411.12" cy="381.3" r="4.5"/>
<circle cx="412.08" cy="382.0" r="4.5"/>
<circle cx="413.53" cy="383.0" r="4.5"/>
<circle cx="415.41" cy="382.8" r="4.5"/>
<circle cx="416.64" cy="384.0" r="4.5"/>
<circle cx="417.91" cy="387.6" r="4.5"/>
<circle cx="418.50" cy="392.0" r="4.5"/>
<circle cx="419.73" cy="390.7" r="4.5"/>
<circle cx="421.36" cy="390.7" r="4.5"/>
<circle cx="422.81" cy="388.7" r="4.5"/>
<circle cx="423.89" cy="388.0" r="4.5"/>
<circle cx="424.63" cy="386.5" r="4.5"/>
<circle cx="426.62" cy="388.4" r="4.5"/>
<circle cx="427.73" cy="389.5" r="4.5"/>
<circle cx="428.46" cy="391.8" r="4.5"/>
<circle cx="429.85" cy="396.2" r="4.5"/>
<circle cx="431.67" cy="399.8" r="4.5"/>
<circle cx="432.41" cy="403.3" r="4.5"/>
<circle cx="433.95" cy="404.4" r="4.5"/>
<circle cx="434.66" cy="406.9" r="4.5"/>
<circle cx="436.61" cy="404.7" r="4.5"/>
<circle cx="437.18" cy="401.4" r="4.5"/>
<circle cx="439.18" cy="397.8" r="4.5"/>
<circle cx="439.87" cy="393.8" r="4.5"/>
<circle cx="440.92" cy="389.1" r="4.5"/>
<circle cx="442.92" cy="386.5" r="4.5"/>
<circle cx="443.77" cy="386.2" r="4.5"/>
<circle cx="444.94" cy="385.2" r="4.5"/>
<circle cx="446.54" cy="383.1" r="4.5"/>
<circle cx="447.28" cy="382.4" r="4.5"/>
<circle cx="448.75" cy="381.9" r="4.5"/>
<circle cx="449.38" cy="410.0" r="4.5"/>
<circle cx="453.75" cy="410.0" r="4.5"/>
<circle cx="452.50" cy="402.5" r="4.5"/>
<circle cx="456.88" cy="396.9" r="4.5"/>
<circle cx="457.89" cy="373.9" r="4.5"/>
<circle cx="459.28" cy="375.1" r="4.5"/>
<circle cx="460.54" cy="377.5" r="4.5"/>
<circle cx="462.12" cy="378.2" r="4.5"/>
<circle cx="463.70" cy="380.5" r="4.5"/>
<circle cx="464.93" cy="382.0" r="4.5"/>
<circle cx="466.25" cy="380.3" r="4.5"/>
<circle cx="467.52" cy="378.3" r="4.5"/>
<circle cx="468.70" cy="377.6" r="4.5"/>
<circle cx="469.55" cy="377.6" r="4.5"/>
<circle cx="470.96" cy="376.0" r="4.5"/>
<circle cx="472.70" cy="375.1" r="4.5"/>
<circle cx="473.59" cy="376.3" r="4.5"/>
<circle cx="475.05" cy="378.0" r="4.5"/>
<circle cx="475.90" cy="378.9" r="4.5"/>
<circle cx="477.27" cy="379.6" r="4.5"/>
<circle cx="479.00" cy="381.3" r="4.5"/>
<circle cx="480.06" cy="383.0" r="4.5"/>
<circle cx="481.62" cy="385.2" r="4.5"/>
<circle cx="482.60" cy="388.1" r="4.5"/>
<circle cx="483.76" cy="391.3" r="4.5"/>
<circle cx="484.96" cy="393.8" r="4.5"/>
<circle cx="486.23" cy="391.7" r="4.5"/>
<circle cx="487.68" cy="388.8" r="4.5"/>
<circle cx="489.15" cy="384.9" r="4.5"/>
<circle cx="490.05" cy="383.3" r="4.5"/>
<circle cx="491.56" cy="378.7" r="4.5"/>
<circle cx="492.50" cy="376.2" r="4.5"/>
<circle cx="493.12" cy="366.2" r="4.5"/>
<circle cx="495.62" cy="358.1" r="4.5"/>
<circle cx="496.53" cy="387.4" r="4.5"/>
<circle cx="498.05" cy="390.8" r="4.5"/>
<circle cx="499.62" cy="395.3" r="4.5"/>
<circle cx="501.51" cy="405.7" r="4.5"/>
<circle cx="502.19" cy="405.7" r="4.5"/>
<circle cx="503.89" cy="405.0" r="4.5"/>
<circle cx="505.34" cy="406.8" r="4.5"/>
<circle cx="506.00" cy="407.1" r="4.5"/>
<circle cx="507.41" cy="405.9" r="4.5"/>
<circle cx="509.19" cy="406.2" r="4.5"/>
<circle cx="509.70" cy="405.2" r="4.5"/>
<circle cx="511.25" cy="405.0" r="4.5"/>
<circle cx="511.25" cy="396.9" r="4.5"/>
<circle cx="511.88" cy="386.9" r="4.5"/>
<circle cx="503.75" cy="418.1" r="4.5"/>
<circle cx="504.38" cy="430.0" r="4.5"/>
<circle cx="513.76" cy="381.0" r="4.5"/>
<circle cx="514.73" cy="379.5" r="4.5"/>
<circle cx="516.45" cy="377.6" r="4.5"/>
<circle cx="517.55" cy="376.9" r="4.5"/>
<circle cx="518.32" cy="375.3" r="4.5"/>
<circle cx="520.11" cy="378.4" r="4.5"/>
<circle cx="520.86" cy="381.9" r="4.5"/>
<circle cx="522.76" cy="384.6" r="4.5"/>
<circle cx="523.39" cy="386.2" r="4.5"/>
<circle cx="524.59" cy="390.1" r="4.5"/>
<circle cx="526.04" cy="391.8" r="4.5"/>
<circle cx="527.43" cy="394.7" r="4.5"/>
<circle cx="529.04" cy="395.0" r="4.5"/>
<circle cx="529.68" cy="397.6" r="4.5"/>
<circle cx="531.31" cy="397.1" r="4.5"/>
<circle cx="532.13" cy="395.8" r="4.5"/>
<circle cx="533.92" cy="396.3" r="4.5"/>
<circle cx="534.62" cy="397.0" r="4.5"/>
<circle cx="536.37" cy="394.6" r="4.5"/>
<circle cx="537.13" cy="392.5" r="4.5"/>
<circle cx="538.36" cy="390.3" r="4.5"/>
<circle cx="539.96" cy="387.2" r="4.5"/>
<circle cx="541.30" cy="391.2" r="4.5"/>
<circle cx="542.29" cy="392.7" r="4.5"/>
<circle cx="543.77" cy="395.8" r="4.5"/>
<circle cx="544.65" cy="397.3" r="4.5"/>
<circle cx="545.85" cy="399.0" r="4.5"/>
<circle cx="547.33" cy="400.9" r="4.5"/>
<circle cx="548.98" cy="398.4" r="4.5"/>
<circle cx="550.00" cy="395.7" r="4.5"/>
<circle cx="551.11" cy="392.9" r="4.5"/>
<circle cx="552.28" cy="389.1" r="4.5"/>
<circle cx="553.96" cy="386.3" r="4.5"/>
<circle cx="554.72" cy="382.5" r="4.5"/>
<circle cx="556.95" cy="380.2" r="4.5"/>
<circle cx="558.41" cy="379.3" r="4.5"/>
<circle cx="559.58" cy="382.7" r="4.5"/>
<circle cx="560.95" cy="384.8" r="4.5"/>
<circle cx="562.67" cy="388.4" r="4.5"/>
<circle cx="563.61" cy="390.3" r="4.5"/>
<circle cx="565.19" cy="392.1" r="4.5"/>
<circle cx="566.16" cy="393.8" r="4.5"/>
<circle cx="567.10" cy="395.6" r="4.5"/>
<circle cx="568.68" cy="398.6" r="4.5"/>
<circle cx="570.41" cy="399.4" r="4.5"/>
<circle cx="571.81" cy="396.9" r="4.5"/>
<circle cx="574.08" cy="392.8" r="4.5"/>
<circle cx="574.80" cy="387.7" r="4.5"/>
<circle cx="576.06" cy="383.7" r="4.5"/>
<circle cx="577.19" cy="381.2" r="4.5"/>
<circle cx="578.54" cy="379.6" r="4.5"/>
<circle cx="580.00" cy="376.2" r="4.5"/>
<circle cx="580.62" cy="406.9" r="4.5"/>
<circle cx="587.50" cy="405.0" r="4.5"/>
<circle cx="589.38" cy="411.9" r="4.5"/>
<circle cx="589.18" cy="382.6" r="4.5"/>
<circle cx="589.77" cy="382.4" r="4.5"/>
<circle cx="591.08" cy="380.4" r="4.5"/>
<circle cx="592.05" cy="379.5" r="4.5"/>
<circle cx="593.73" cy="378.8" r="4.5"/>
<circle cx="594.94" cy="376.1" r="4.5"/>
<circle cx="596.22" cy="372.9" r="4.5"/>
<circle cx="597.76" cy="370.4" r="4.5"/>
<circle cx="599.07" cy="370.5" r="4.5"/>
<circle cx="600.66" cy="371.6" r="4.5"/>
<circle cx="602.26" cy="372.9" r="4.5"/>
<circle cx="603.77" cy="373.8" r="4.5"/>
<circle cx="605.09" cy="375.0" r="4.5"/>
<circle cx="606.15" cy="374.7" r="4.5"/>
<circle cx="608.14" cy="373.7" r="4.5"/>
<circle cx="609.37" cy="374.0" r="4.5"/>
<circle cx="610.21" cy="373.7" r="4.5"/>
<circle cx="612.44" cy="372.7" r="4.5"/>
<circle cx="613.75" cy="372.4" r="4.5"/>
<circle cx="614.68" cy="371.3" r="4.5"/>
<circle cx="616.25" cy="373.1" r="4.5"/>
<circle cx="617.77" cy="374.3" r="4.5"/>
<circle cx="618.83" cy="375.7" r="4.5"/>
<circle cx="620.00" cy="376.2" r="4.5"/>
<circle cx="600.16" cy="374.1" r="4.5"/>
<circle cx="601.01" cy="373.3" r="4.5"/>
<circle cx="602.17" cy="374.3" r="4.5"/>
<circle cx="603.39" cy="375.6" r="4.5"/>
<circle cx="605.05" cy="375.6" r="4.5"/>
<circle cx="606.36" cy="376.2" r="4.5"/>
<circle cx="607.49" cy="375.4" r="4.5"/>
<circle cx="609.02" cy="375.9" r="4.5"/>
<circle cx="610.00" cy="374.6" r="4.5"/>
<circle cx="611.39" cy="373.0" r="4.5"/>
<circle cx="612.71" cy="372.5" r="4.5"/>
<circle cx="613.37" cy="371.7" r="4.5"/>
<circle cx="615.21" cy="370.7" r="4.5"/>
<circle cx="616.47" cy="372.7" r="4.5"/>
<circle cx="617.49" cy="372.3" r="4.5"/>
<circle cx="618.73" cy="373.5" r="4.5"/>
<circle cx="620.24" cy="374.0" r="4.5"/>
<circle cx="621.38" cy="373.6" r="4.5"/>
<circle cx="622.18" cy="374.6" r="4.5"/>
<circle cx="623.97" cy="376.2" r="4.5"/>
<circle cx="625.06" cy="377.2" r="4.5"/>
<circle cx="625.85" cy="379.3" r="4.5"/>
<circle cx="627.65" cy="381.6" r="4.5"/>
<circle cx="628.91" cy="382.1" r="4.5"/>
<circle cx="630.01" cy="383.7" r="4.5"/>
<circle cx="631.22" cy="384.3" r="4.5"/>
<circle cx="632.85" cy="385.7" r="4.5"/>
<circle cx="634.18" cy="386.1" r="4.5"/>
<circle cx="634.57" cy="384.3" r="4.5"/>
<circle cx="636.54" cy="384.3" r="4.5"/>
<circle cx="637.45" cy="382.1" r="4.5"/>
<circle cx="638.80" cy="380.2" r="4.5"/>
<circle cx="640.36" cy="376.4" r="4.5"/>
<circle cx="641.76" cy="378.4" r="4.5"/>
<circle cx="643.95" cy="379.8" r="4.5"/>
<circle cx="645.00" cy="382.5" r="4.5"/>
<circle cx="646.54" cy="393.8" r="4.5"/>
<circle cx="647.85" cy="397.4" r="4.5"/>
<circle cx="648.51" cy="401.1" r="4.5"/>
<circle cx="649.99" cy="402.9" r="4.5"/>
<circle cx="650.80" cy="407.1" r="4.5"/>
<circle cx="652.46" cy="410.1" r="4.5"/>
<circle cx="653.43" cy="413.5" r="4.5"/>
<circle cx="654.83" cy="411.9" r="4.5"/>
<circle cx="655.80" cy="409.2" r="4.5"/>
<circle cx="657.81" cy="405.6" r="4.5"/>
<circle cx="659.13" cy="405.1" r="4.5"/>
<circle cx="660.36" cy="402.7" r="4.5"/>
<circle cx="661.13" cy="401.4" r="4.5"/>
<circle cx="662.95" cy="400.2" r="4.5"/>
<circle cx="663.62" cy="400.2" r="4.5"/>
<circle cx="664.80" cy="399.9" r="4.5"/>
<circle cx="665.89" cy="401.7" r="4.5"/>
<circle cx="667.31" cy="402.3" r="4.5"/>
<circle cx="668.52" cy="401.5" r="4.5"/>
<circle cx="670.01" cy="403.8" r="4.5"/>
<circle cx="671.25" cy="406.9" r="4.5"/>
<circle cx="671.76" cy="415.8" r="4.5"/>
<circle cx="673.78" cy="419.9" r="4.5"/>
<circle cx="675.12" cy="424.5" r="4.5"/>
<circle cx="676.65" cy="423.8" r="4.5"/>
<circle cx="677.70" cy="422.9" r="4.5"/>
<circle cx="678.96" cy="423.7" r="4.5"/>
<circle cx="680.23" cy="420.9" r="4.5"/>
<circle cx="681.06" cy="416.7" r="4.5"/>
<circle cx="682.88" cy="414.3" r="4.5"/>
<circle cx="683.72" cy="412.2" r="4.5"/>
<circle cx="684.82" cy="412.5" r="4.5"/>
<circle cx="686.68" cy="411.2" r="4.5"/>
<circle cx="687.50" cy="411.2" r="4.5"/>
<circle cx="698.75" cy="411.9" r="4.5"/>
<circle cx="702.50" cy="406.2" r="4.5"/>
<circle cx="708.75" cy="411.2" r="4.5"/>
<circle cx="710.00" cy="422.5" r="4.5"/>
<circle cx="715.00" cy="420.0" r="4.5"/>
<circle cx="718.75" cy="417.5" r="4.5"/>
<circle cx="716.25" cy="430.0" r="4.5"/>
<circle cx="698.75" cy="439.4" r="4.5"/>
<circle cx="725.62" cy="414.4" r="4.5"/>
<circle cx="723.75" cy="422.5" r="4.5"/>
<circle cx="726.25" cy="428.1" r="4.5"/>
<circle cx="689.38" cy="448.1" r="4.5"/>
<circle cx="728.50" cy="459.4" r="4.5"/>
<circle cx="690.62" cy="473.8" r="4.5"/>
<circle cx="692.50" cy="478.8" r="4.5"/>
<circle cx="697.50" cy="479.4" r="4.5"/>
<circle cx="729.38" cy="478.8" r="4.5"/>
<circle cx="730.62" cy="482.5" r="4.5"/>
<circle cx="755.00" cy="472.2" r="4.5"/>
<circle cx="753.12" cy="481.9" r="4.5"/>
<circle cx="767.50" cy="479.4" r="4.5"/>
<circle cx="770.62" cy="472.2" r="4.5"/>
<circle cx="771.98" cy="472.2" r="4.5"/>
<circle cx="773.34" cy="472.2" r="4.5"/>
<circle cx="774.70" cy="472.2" r="4.5"/>
<circle cx="776.06" cy="472.2" r="4.5"/>
<circle cx="777.41" cy="472.2" r="4.5"/>
<circle cx="778.77" cy="472.2" r="4.5"/>
<circle cx="780.13" cy="472.2" r="4.5"/>
<circle cx="781.49" cy="472.2" r="4.5"/>
<circle cx="782.85" cy="472.2" r="4.5"/>
<circle cx="784.20" cy="472.2" r="4.5"/>
<circle cx="785.56" cy="472.2" r="4.5"/>
<circle cx="786.92" cy="472.2" r="4.5"/>
<circle cx="788.28" cy="472.2" r="4.5"/>
<circle cx="789.64" cy="472.2" r="4.5"/>
<circle cx="790.99" cy="472.2" r="4.5"/>
<circle cx="792.35" cy="472.2" r="4.5"/>
<circle cx="793.71" cy="472.2" r="4.5"/>
<circle cx="795.07" cy="472.2" r="4.5"/>
<circle cx="796.43" cy="472.2" r="4.5"/>
<circle cx="797.78" cy="472.2" r="4.5"/>
<circle cx="799.14" cy="472.2" r="4.5"/>
<circle cx="800.50" cy="472.2" r="4.5"/>
<circle cx="801.86" cy="472.2" r="4.5"/>
<circle cx="803.22" cy="472.2" r="4.5"/>
<circle cx="804.57" cy="472.2" r="4.5"/>
<circle cx="805.93" cy="472.2" r="4.5"/>
<circle cx="807.29" cy="472.2" r="4.5"/>
<circle cx="808.65" cy="472.2" r="4.5"/>
<circle cx="810.01" cy="472.2" r="4.5"/>
<circle cx="811.36" cy="472.2" r="4.5"/>
<circle cx="812.72" cy="472.2" r="4.5"/>
<circle cx="814.08" cy="472.2" r="4.5"/>
<circle cx="815.44" cy="472.2" r="4.5"/>
<circle cx="816.80" cy="472.2" r="4.5"/>
<circle cx="818.15" cy="472.2" r="4.5"/>
<circle cx="819.51" cy="472.2" r="4.5"/>
<circle cx="820.87" cy="472.2" r="4.5"/>
<circle cx="822.23" cy="472.2" r="4.5"/>
<circle cx="823.59" cy="472.2" r="4.5"/>
<circle cx="824.94" cy="472.2" r="4.5"/>
<circle cx="826.30" cy="472.2" r="4.5"/>
<circle cx="827.66" cy="472.2" r="4.5"/>
<circle cx="829.02" cy="472.2" r="4.5"/>
<circle cx="830.38" cy="472.2" r="4.5"/>
<circle cx="732.50" cy="497.2" r="4.5"/>
<circle cx="733.50" cy="520.4" r="4.5"/>
<circle cx="735.62" cy="535.6" r="4.5"/>
<circle cx="737.25" cy="543.8" r="4.5"/>
<circle cx="747.50" cy="531.2" r="4.5"/>
<circle cx="745.62" cy="551.2" r="4.5"/>
<circle cx="743.12" cy="556.9" r="4.5"/>
<circle cx="739.75" cy="564.1" r="4.5"/>
<circle cx="766.62" cy="492.5" r="4.5"/>
<circle cx="752.50" cy="490.0" r="4.5"/>
<circle cx="756.88" cy="492.5" r="4.5"/>
<circle cx="749.38" cy="497.5" r="4.5"/>
<circle cx="748.12" cy="502.5" r="4.5"/>
<circle cx="758.12" cy="501.9" r="4.5"/>
<circle cx="761.25" cy="507.5" r="4.5"/>
<circle cx="765.00" cy="515.0" r="4.5"/>
<circle cx="740.88" cy="573.8" r="4.5"/>
<circle cx="209.52" cy="469.0" r="4.5"/>
<circle cx="210.78" cy="466.2" r="4.5"/>
<circle cx="211.78" cy="462.7" r="4.5"/>
<circle cx="213.17" cy="461.0" r="4.5"/>
<circle cx="214.79" cy="456.8" r="4.5"/>
<circle cx="216.51" cy="455.2" r="4.5"/>
<circle cx="217.50" cy="451.2" r="4.5"/>
<circle cx="220.00" cy="464.4" r="4.5"/>
<circle cx="223.75" cy="466.2" r="4.5"/>
<circle cx="227.50" cy="462.5" r="4.5"/>
<circle cx="230.00" cy="451.2" r="4.5"/>
<circle cx="233.12" cy="443.8" r="4.5"/>
<circle cx="235.62" cy="448.1" r="4.5"/>
<circle cx="236.25" cy="468.8" r="4.5"/>
</g>
<g stroke="#000" stroke-width="2" fill="none" shape-rendering="crispEdges">
<rect x="120" y="86" width="744" height="555"/>
<path d="M131 641v7"/>
<path d="M213 641v7"/>
<path d="M293 641v7"/>
<path d="M375 641v7"/>
<path d="M457 641v7"/>
<path d="M541 641v7"/>
<path d="M623 641v7"/>
<path d="M705 641v7"/>
<path d="M784 641v7"/>
<path d="M120 626h-7"/>
<path d="M120 512h-7"/>
<path d="M120 398h-7"/>
<path d="M120 283h-7"/>
<path d="M120 169h-7"/>
<path d="M864 605h7"/>
<path d="M864 533h7"/>
<path d="M864 461h7"/>
<path d="M864 389h7"/>
<path d="M864 317h7"/>
<path d="M864 245h7"/>
<path d="M864 173h7"/>
<path d="M864 101h7"/>
</g>
<g font-size="20.83px">
<text x="130.4" y="670" text-anchor="middle" letter-spacing="-0.35">2020-11</text>
<text x="212.4" y="670" text-anchor="middle" letter-spacing="-0.35">2021-01</text>
<text x="292.4" y="670" text-anchor="middle" letter-spacing="-0.35">2021-03</text>
<text x="374.4" y="670" text-anchor="middle" letter-spacing="-0.35">2021-05</text>
<text x="456.4" y="670" text-anchor="middle" letter-spacing="-0.35">2021-07</text>
<text x="540.4" y="670" text-anchor="middle" letter-spacing="-0.35">2021-09</text>
<text x="622.4" y="670" text-anchor="middle" letter-spacing="-0.35">2021-11</text>
<text x="704.4" y="670" text-anchor="middle" letter-spacing="-0.35">2022-01</text>
<text x="783.4" y="670" text-anchor="middle" letter-spacing="-0.35">2022-03</text>
<text x="104.6" y="634.0" text-anchor="end" fill="#f00" letter-spacing="-0.6">0.90</text>
<text x="104.6" y="520.0" text-anchor="end" fill="#f00" letter-spacing="-0.6">0.95</text>
<text x="104.6" y="406.0" text-anchor="end" fill="#f00" letter-spacing="-0.6">1.00</text>
<text x="104.6" y="291.0" text-anchor="end" fill="#f00" letter-spacing="-0.6">1.05</text>
<text x="104.6" y="177.0" text-anchor="end" fill="#f00" letter-spacing="-0.6">1.10</text>
<text x="879.6" y="613.0" letter-spacing="-0.5">86</text>
<text x="879.6" y="541.0" letter-spacing="-0.5">88</text>
<text x="879.6" y="469.0" letter-spacing="-0.5">90</text>
<text x="879.6" y="397.0" letter-spacing="-0.5">92</text>
<text x="879.6" y="325.0" letter-spacing="-0.5">94</text>
<text x="879.6" y="253.0" letter-spacing="-0.5">96</text>
<text x="879.6" y="181.0" letter-spacing="-0.5">98</text>
<text x="879.6" y="109.0" letter-spacing="-0.5">100</text>
<text x="492.5" y="699" text-anchor="middle">Date</text>
<text transform="translate(53.6,364) rotate(-90)" text-anchor="middle" fill="#f00">Reproductive Number R_d, Daily</text>
<text transform="translate(932,364) rotate(-90)" text-anchor="middle">Encounter Density, Adjusted</text>
</g>
<text x="752.4" y="710" font-size="41.67px" letter-spacing="-2">IA</text>
<rect x="447.9" y="97.2" width="88" height="35.6" rx="4" ry="4" fill="#fff" fill-opacity="0.8" stroke="#ccc" stroke-width="1.7"/>
<circle cx="477" cy="113.6" r="4.4" fill="#f00"/>
<text x="515" y="120" font-size="20.83px">R</text>
<rect x="626.6" y="97.2" width="227.4" height="35.6" rx="4" ry="4" fill="#fff" fill-opacity="0.8" stroke="#ccc" stroke-width="1.7"/>
<circle cx="655.8" cy="113.6" r="4.5" fill="#000"/>
<text x="693" y="120" font-size="20.83px">D, shifted 25 days</text>
</svg></body></html>
